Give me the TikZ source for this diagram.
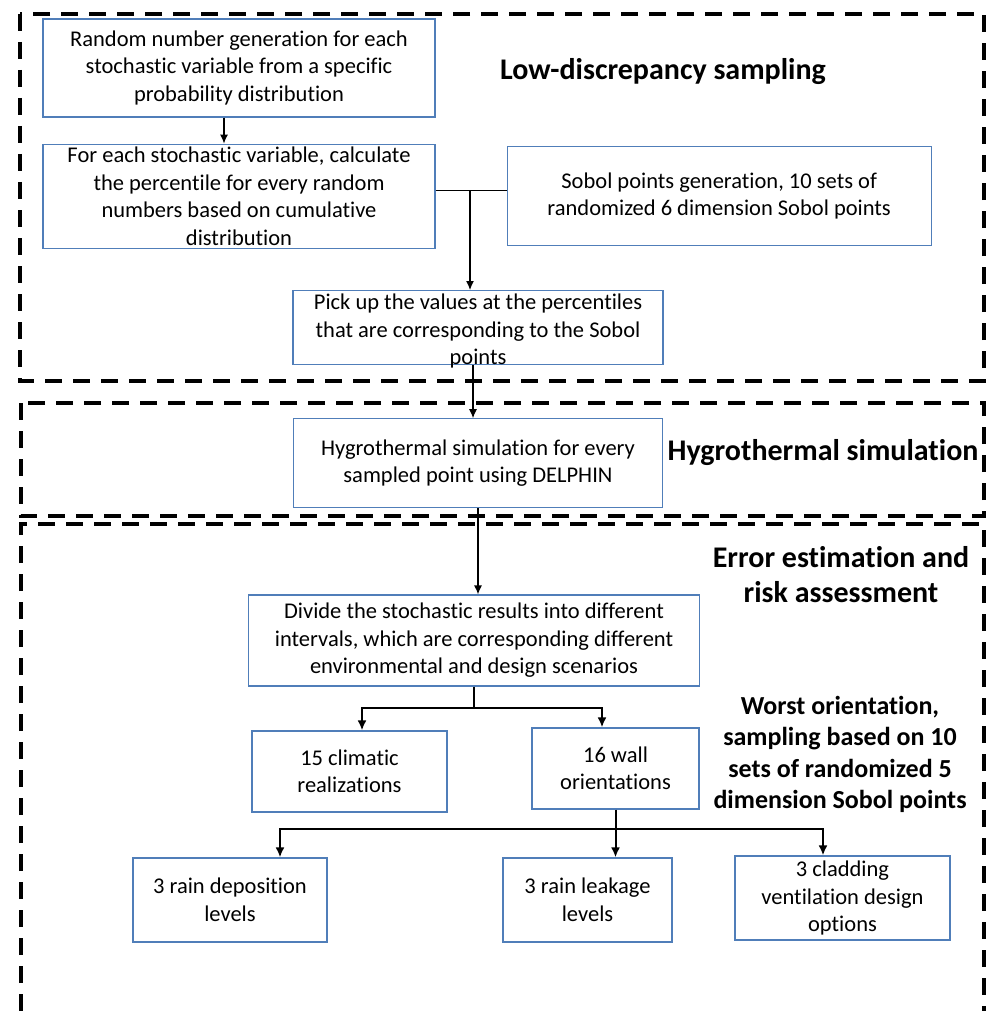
\documentclass[tikz,border=0pt]{standalone}
\usepackage{fontspec}
\setmainfont{Carlito}[Ligatures=NoCommon]
\usepackage{tikz}
\usetikzlibrary{arrows.meta, positioning, calc}
\definecolor{boxblue}{RGB}{80,126,185}
\tikzset{
    block_blue/.style={rectangle, draw=boxblue, line width=1.2pt, align=center, inner sep=2pt, font=\fontsize{22.5}{27.5}\selectfont},
    stage_frame/.style={dash pattern=on 17pt off 11pt, line width=3.5pt},
    stage_title/.style={align=center, inner sep=0pt, font=\fontsize{30}{35}\selectfont\bfseries},
    side_note/.style={align=center, inner sep=0pt, font=\fontsize{26}{31.5}\selectfont\bfseries},
    arrow/.style={-{Latex[length=9pt,width=8pt]}, line width=1.2pt},
    arrow_thick/.style={-{Latex[length=10pt,width=9pt]}, line width=2pt}
}

\begin{document}
\begin{tikzpicture}[x=1pt, y=-1pt, node distance=26pt and 71pt]
			\useasboundingbox (0,0) rectangle (988,1011);
			
			\draw [stage_frame] (20,14) rectangle (984,381);
			\draw [stage_frame] (21,403) rectangle (984,516);
			\draw [stage_frame] (21,1011) -- (21,524) -- (984,524) -- (984,1011);
			
			\node (rng) [block_blue, minimum width=392pt, minimum height=98pt] at (239,68) {Random number generation for each\\stochastic variable from a specific\\probability distribution};
			\node (pct) [block_blue, below=of rng, minimum width=392pt, minimum height=104pt] {For each stochastic variable, calculate\\the percentile for every random\\numbers based on cumulative\\distribution};
			\node (sob) [block_blue, right=of pct, minimum width=424pt, minimum height=99pt] {Sobol points generation, 10 sets of\\randomized 6 dimension Sobol points};
			\node (pick) [block_blue, minimum width=370pt, inner ysep=0pt, text height=74pt, text depth=0pt] at (478,290) [anchor=north] {Pick up the values at the percentiles\\that are corresponding to the Sobol\\points};
			\node (hyg) [block_blue, below=53pt of pick, minimum width=369pt, minimum height=89pt] {Hygrothermal simulation for every\\sampled point using DELPHIN};
			\node (div) [block_blue, below=86pt of hyg, xshift=-4pt, minimum width=451pt, minimum height=91pt] {Divide the stochastic results into different\\intervals, which are corresponding different\\environmental and design scenarios};
			\node (clim) [block_blue, minimum width=195pt, minimum height=81pt] at (349.5,771.5) {15 climatic\\realizations};
			\node (wall) [block_blue, minimum width=167pt, minimum height=81pt] at (615.5,768.5) {16 wall\\orientations};
			\node (rdep) [block_blue, minimum width=194pt, minimum height=84pt] at (230,900) {3 rain deposition\\levels};
			\node (rleak) [block_blue, minimum width=169pt, minimum height=84pt] at (587.5,900) {3 rain leakage\\levels};
			\node (clad) [block_blue, minimum width=215pt, minimum height=84pt] at (842.5,898) {3 cladding\\ventilation design\\options};
			
			\node (t_lds) [stage_title] at (663,72) {Low-discrepancy sampling};
			\node (t_hyg) [stage_title] at (823,453) {Hygrothermal simulation};
			\node (t_err) [stage_title] at (841,574.5) {Error estimation and\\risk assessment};
			\node (t_worst) [side_note] at (840,754.5) {Worst orientation,\\sampling based on 10\\sets of randomized 5\\dimension Sobol points};
			
			\coordinate (split1) at ([yshift=6pt]pct.east);
			\coordinate (pick_in) at ([xshift=-8pt]pick.north);
			\coordinate (split2) at ($(div.south)+(0,21)$);
			\coordinate (split3) at ($(wall.south)+(0,19)$);
			
			\draw [arrow] ([xshift=-15pt]rng.south) -- ([xshift=-15pt]pct.north);
			\draw [line width=1.2pt] (split1) -- (split1 -| sob.west);
			\draw [arrow] (split1 -| pick_in) -- (pick_in);
			\draw [arrow] ([xshift=-5pt]pick.south) -- ([xshift=-5pt]pick.south |- hyg.north);
			\draw [arrow] (hyg.south) -- (hyg.south |- div.north);
			\draw [line width=2pt] (div.south) -- (split2);
			\draw [arrow_thick] (split2) -| ([xshift=12.5pt]clim.north);
			\draw [arrow_thick] (split2) -| ([xshift=-13.5pt]wall.north);
			\draw [arrow_thick] (wall.south) -- ([xshift=28pt]rleak.north);
			\draw [arrow_thick] (split3) -| ([xshift=50pt]rdep.north);
			\draw [arrow_thick] (split3) -| ([xshift=-19.5pt]clad.north);
		\end{tikzpicture}
\end{document}
